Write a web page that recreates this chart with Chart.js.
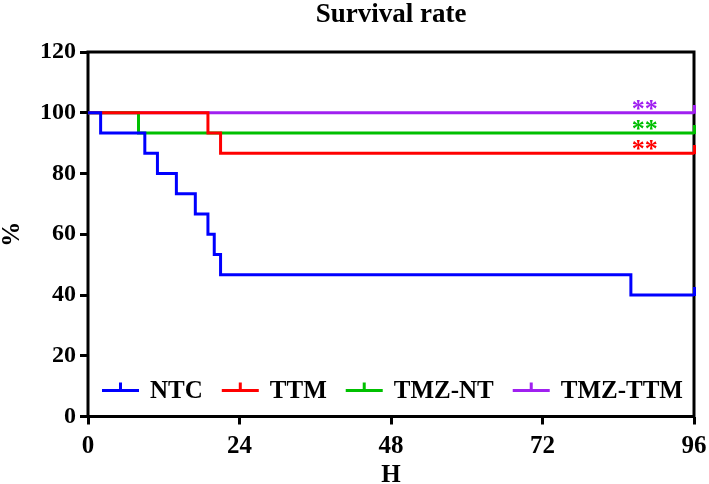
<!DOCTYPE html>
<html>
<head>
<meta charset="utf-8">
<script src="https://cdn.jsdelivr.net/npm/chart.js@4/dist/chart.umd.min.js"></script>
<style>
  html, body { margin: 0; padding: 0; background: #ffffff; }
  #wrap { width: 709px; height: 484px; }
</style>
</head>
<body>
<div id="wrap"><canvas id="c" width="709" height="484"></canvas></div>
<script>
// ---- Data ----
const seriesNames = ['NTC', 'TTM', 'TMZ-NT', 'TMZ-TTM'];
const ntcTime    = [0, 2, 9, 11, 14, 17, 19, 20, 21, 86, 96];
const ntcSurv    = [100, 93.3, 86.7, 80, 73.3, 66.7, 60, 53.3, 46.7, 40, 40];
const ttmTime    = [0, 19, 21, 96];
const ttmSurv    = [100, 93.3, 86.7, 86.7];
const tmzntTime  = [0, 8, 96];
const tmzntSurv  = [100, 93.3, 93.3];
const tmzttmTime = [0, 96];
const tmzttmSurv = [100, 100];
const xTicks = [0, 24, 48, 72, 96];
const yTicks = [0, 20, 40, 60, 80, 100, 120];
const sigMarks = ['', '**', '**', '**'];
const sigHour = 88.2;
const chartTitle = 'Survival rate';

const colors = ['#0000ff', '#ff0000', '#00c000', '#a020f0'];
const FONT = '"Liberation Serif", "Times New Roman", serif';

function censorMark(color) {
  const cv = document.createElement('canvas');
  cv.width = 3; cv.height = 16;
  const g = cv.getContext('2d');
  g.fillStyle = color;
  g.fillRect(0, 0, 3, 9);
  return cv;
}

function makeDataset(name, times, surv, color) {
  const pts = times.map((t, i) => ({ x: t, y: surv[i] }));
  return {
    label: name,
    data: pts,
    borderColor: color,
    backgroundColor: color,
    borderWidth: 3,
    stepped: 'before',
    fill: false,
    pointRadius: pts.map((p, i) => i === pts.length - 1 ? 5 : 0),
    pointHoverRadius: 0,
    pointStyle: censorMark(color),
    clip: 8
  };
}

const datasets = [
  makeDataset(seriesNames[0], ntcTime, ntcSurv, colors[0]),
  makeDataset(seriesNames[1], ttmTime, ttmSurv, colors[1]),
  makeDataset(seriesNames[2], tmzntTime, tmzntSurv, colors[2]),
  makeDataset(seriesNames[3], tmzttmTime, tmzttmSurv, colors[3])
];

const boxPlugin = {
  id: 'box',
  beforeDatasetsDraw(chart) {
    const a = chart.chartArea, ctx = chart.ctx;
    ctx.save();
    ctx.strokeStyle = '#000';
    ctx.lineWidth = 3;
    ctx.strokeRect(a.left, a.top, a.right - a.left, a.bottom - a.top);
    ctx.restore();
  }
};

const titlePlugin = {
  id: 'areatitle',
  afterDraw(chart) {
    const ctx = chart.ctx, a = chart.chartArea;
    ctx.save();
    ctx.font = 'bold 27px ' + FONT;
    ctx.textAlign = 'center';
    ctx.textBaseline = 'alphabetic';
    ctx.fillStyle = '#000';
    ctx.fillText(chartTitle, (a.left + a.right) / 2, a.top - 30);
    ctx.restore();
  }
};

const sigPlugin = {
  id: 'sig',
  afterDatasetsDraw(chart) {
    const ctx = chart.ctx;
    const xs = chart.scales.x, ys = chart.scales.y;
    ctx.save();
    ctx.font = 'bold 26px ' + FONT;
    ctx.textAlign = 'center';
    ctx.textBaseline = 'alphabetic';
    chart.data.datasets.forEach((ds, i) => {
      const txt = sigMarks[i];
      if (!txt) return;
      const last = ds.data[ds.data.length - 1];
      const px = xs.getPixelForValue(sigHour);
      const py = ys.getPixelForValue(last.y);
      const m = ctx.measureText(txt);
      ctx.fillStyle = ds.borderColor;
      ctx.fillText(txt, px, py - 3 - m.actualBoundingBoxDescent);
    });
    ctx.restore();
  }
};

const legendPlugin = {
  id: 'inlegend',
  afterDraw(chart) {
    const ctx = chart.ctx, a = chart.chartArea;
    ctx.save();
    ctx.font = 'bold 25px ' + FONT;
    ctx.textBaseline = 'middle';
    ctx.textAlign = 'left';
    let x = a.left + 14;
    const y = a.bottom - 26;
    chart.data.datasets.forEach((ds) => {
      ctx.fillStyle = ds.borderColor;
      ctx.fillRect(x, y - 1.5, 37, 3);
      ctx.fillRect(x + 17, y - 8, 3, 8);
      x += 37 + 11;
      ctx.fillStyle = '#000';
      ctx.fillText(ds.label, x, y + 1);
      x += ctx.measureText(ds.label).width + 19;
    });
    ctx.restore();
  }
};

new Chart(document.getElementById('c'), {
  type: 'line',
  data: { datasets },
  plugins: [boxPlugin, sigPlugin, legendPlugin, titlePlugin],
  options: {
    responsive: false,
    animation: false,
    events: [],
    layout: { padding: { left: 0, right: 0, top: 52, bottom: 0 } },
    plugins: {
      legend: { display: false },
      tooltip: { enabled: false },
      title: { display: false }
    },
    scales: {
      x: {
        type: 'linear',
        min: 0, max: 96,
        afterBuildTicks(scale) { scale.ticks = xTicks.map(v => ({ value: v })); },
        afterFit(scale) { scale.height = 67.5; scale.paddingRight = 15; },
        border: { display: false },
        grid: { drawOnChartArea: false, color: '#000', lineWidth: 3, tickLength: 8, tickWidth: 3 },
        ticks: { color: '#000', padding: 7, maxRotation: 0, font: { family: FONT, size: 25, weight: 'bold' } },
        title: { display: true, text: 'H', color: '#000', padding: { top: 0, bottom: -4 },
                 font: { family: FONT, size: 25, weight: 'bold', lineHeight: 1.0 } }
      },
      y: {
        type: 'linear',
        min: 0, max: 120,
        afterBuildTicks(scale) { scale.ticks = yTicks.map(v => ({ value: v })); },
        afterFit(scale) { scale.width = 88; },
        border: { display: false },
        grid: { drawOnChartArea: false, color: '#000', lineWidth: 3, tickLength: 8, tickWidth: 3 },
        ticks: { color: '#000', padding: 4, font: { family: FONT, size: 24, weight: 'bold' } },
        title: { display: true, text: '%', color: '#000', padding: { top: 0, bottom: 0 },
                 font: { family: FONT, size: 25, weight: 'bold', lineHeight: 1.0 } }
      }
    }
  }
});
</script>
</body>
</html>
